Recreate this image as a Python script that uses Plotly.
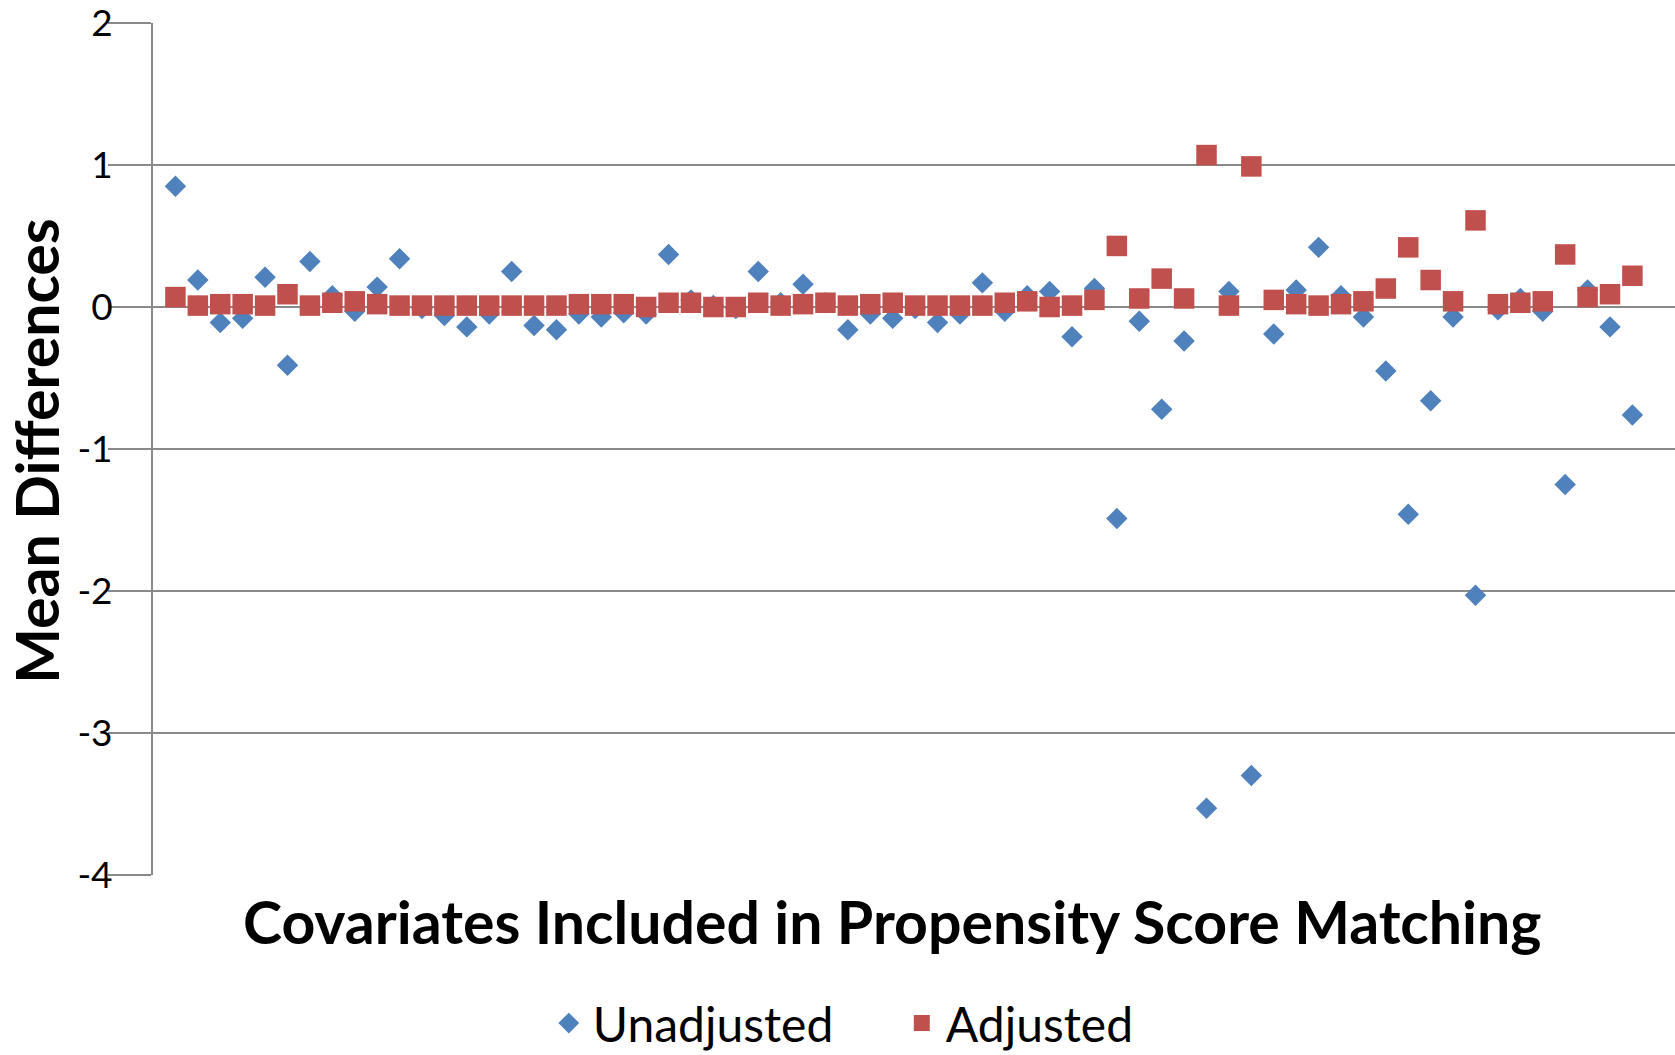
import plotly.graph_objects as go

# Covariate index (1..66) and mean differences before / after matching
covariates = list(range(1, 67))

unadjusted = [
    0.85, 0.19, -0.11, -0.08, 0.21, -0.41, 0.32, 0.08, -0.03, 0.14,
    0.34, -0.01, -0.06, -0.14, -0.05, 0.25, -0.13, -0.16, -0.05, -0.07,
    -0.04, -0.05, 0.37, 0.05, 0.01, -0.01, 0.25, 0.03, 0.16, 0.03,
    -0.16, -0.05, -0.08, -0.01, -0.11, -0.05, 0.17, -0.03, 0.08, 0.11,
    -0.21, 0.13, -1.49, -0.10, -0.72, -0.24, -3.53, 0.11, -3.30, -0.19,
    0.12, 0.42, 0.08, -0.07, -0.45, -1.46, -0.66, -0.07, -2.03, -0.02,
    0.06, -0.03, -1.25, 0.12, -0.14, -0.76,
]

adjusted = [
    0.07, 0.01, 0.02, 0.02, 0.01, 0.09, 0.01, 0.03, 0.04, 0.02,
    0.01, 0.01, 0.01, 0.01, 0.01, 0.01, 0.01, 0.01, 0.02, 0.02,
    0.02, 0.00, 0.03, 0.03, 0.00, 0.00, 0.03, 0.01, 0.02, 0.03,
    0.01, 0.02, 0.03, 0.01, 0.01, 0.01, 0.01, 0.03, 0.04, 0.00,
    0.01, 0.05, 0.43, 0.06, 0.20, 0.06, 1.07, 0.01, 0.99, 0.05,
    0.02, 0.01, 0.02, 0.04, 0.13, 0.42, 0.19, 0.04, 0.61, 0.02,
    0.03, 0.04, 0.37, 0.07, 0.09, 0.22,
]

y_ticks = [2, 1, 0, -1, -2, -3, -4]

BLUE = "#4F81BD"
RED = "#C0504D"
GRID = "#898989"
FONT = "Lato"

fig = go.Figure()
fig.add_trace(go.Scatter(
    x=covariates, y=unadjusted, mode="markers", name="Unadjusted",
    marker=dict(symbol="diamond", size=16.5, color=BLUE, line=dict(width=0)),
))
fig.add_trace(go.Scatter(
    x=covariates, y=adjusted, mode="markers", name="Adjusted",
    marker=dict(symbol="square", size=20.5, color=RED, line=dict(width=0)),
))

fig.update_layout(
    width=1675, height=1055,
    margin=dict(l=153, r=0, t=23, b=180),
    paper_bgcolor="white", plot_bgcolor="white",
    font=dict(family=FONT, color="black"),
    showlegend=True,
    legend=dict(
        orientation="h", xref="container", yref="container",
        x=0.536, xanchor="center", y=0.03, yanchor="middle",
        font=dict(size=48, family=FONT), itemwidth=38,
        entrywidth=300, bgcolor="rgba(0,0,0,0)",
    ),
    xaxis=dict(
        range=[0, 67.9], showgrid=False, zeroline=False,
        showticklabels=False, showline=False, ticks="",
    ),
    yaxis=dict(
        range=[-4, 2], tickvals=y_ticks, ticktext=[str(v) for v in y_ticks],
        showgrid=True, gridcolor=GRID, gridwidth=2,
        zeroline=False, showline=True, linecolor=GRID, linewidth=2,
        ticks="outside", ticklen=43, tickwidth=2, tickcolor=GRID,
        ticklabelstandoff=-12, ticklabeloverflow="allow",
        tickfont=dict(size=37, family=FONT, color="black"),
    ),
    annotations=[
        dict(
            text="<b>Covariates Included in Propensity Score Matching</b>",
            xref="paper", yref="paper", x=0.486, y=-0.054,
            xanchor="center", yanchor="middle", showarrow=False,
            font=dict(size=59, family=FONT, color="black"),
        ),
        dict(
            text="<b>Mean Differences</b>",
            xref="paper", yref="paper", x=-0.0762, y=0.498,
            xanchor="center", yanchor="middle", showarrow=False,
            textangle=-90,
            font=dict(size=59, family=FONT, color="black"),
        ),
    ],
)

fig.write_html("out.html")
